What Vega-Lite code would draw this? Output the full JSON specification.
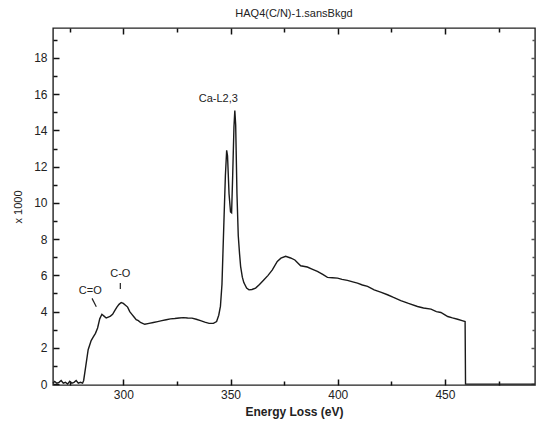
{
  "$schema": "https://vega.github.io/schema/vega-lite/v6.json",
  "padding": {"left": 12, "top": 8, "right": 3, "bottom": 5},
  "width": 482,
  "height": 357,
  "title": {"text": "HAQ4(C/N)-1.sansBkgd", "font": "Liberation Sans", "fontSize": 11, "fontWeight": "normal", "color": "#222", "offset": 8},
  "config": {
    "view": {"stroke": "#222", "strokeWidth": 1.4},
    "axis": {"labelFont": "Liberation Sans", "titleFont": "Liberation Sans", "labelColor": "#222", "titleColor": "#222", "domain": false, "gridOpacity": 0}
  },
  "datasets": {
    "ann": [
      {"e": 344.3, "v": 15.75, "label": "Ca-L2,3"},
      {"e": 284.6, "v": 5.15, "label": "C=O"},
      {"e": 298.6, "v": 6.07, "label": "C-O"}
    ],
    "marks": [
      {"e": 298.6, "v": 5.58, "e2": 298.6, "v2": 5.25},
      {"e": 285.4, "v": 4.73, "e2": 287.4, "v2": 4.27}
    ]
  },
  "data": {"values": [
      {"e": 267.2, "v": 0.05}, {"e": 268, "v": 0.15}, {"e": 269, "v": 0.05}, {"e": 270, "v": 0.1}, {"e": 271, "v": 0.2},
      {"e": 272, "v": 0.05}, {"e": 273, "v": 0.1}, {"e": 274, "v": 0.0}, {"e": 275, "v": 0.15}, {"e": 276, "v": 0.05},
      {"e": 277, "v": 0.1}, {"e": 278, "v": 0.2}, {"e": 279, "v": 0.05}, {"e": 280, "v": 0.1}, {"e": 281, "v": 0.05},
      {"e": 281.5, "v": 0.2}, {"e": 282.5, "v": 1.0}, {"e": 283.6, "v": 1.9}, {"e": 285, "v": 2.4}, {"e": 286, "v": 2.6},
      {"e": 287, "v": 2.8}, {"e": 288, "v": 3.1}, {"e": 289, "v": 3.6}, {"e": 290, "v": 3.85}, {"e": 291, "v": 3.75},
      {"e": 292, "v": 3.65}, {"e": 293, "v": 3.7}, {"e": 294, "v": 3.75}, {"e": 295, "v": 3.85}, {"e": 296, "v": 4.05},
      {"e": 297, "v": 4.25}, {"e": 298, "v": 4.4}, {"e": 299, "v": 4.5}, {"e": 300, "v": 4.45}, {"e": 301, "v": 4.35},
      {"e": 302, "v": 4.25}, {"e": 303, "v": 4.0}, {"e": 304, "v": 3.85}, {"e": 305, "v": 3.7}, {"e": 306, "v": 3.55},
      {"e": 307, "v": 3.5}, {"e": 308, "v": 3.4}, {"e": 309, "v": 3.35}, {"e": 310, "v": 3.3}, {"e": 312, "v": 3.35},
      {"e": 314, "v": 3.4}, {"e": 316, "v": 3.45}, {"e": 318, "v": 3.5}, {"e": 320, "v": 3.55}, {"e": 322, "v": 3.6},
      {"e": 324, "v": 3.62}, {"e": 326, "v": 3.65}, {"e": 328, "v": 3.67}, {"e": 330, "v": 3.65}, {"e": 332, "v": 3.64},
      {"e": 334, "v": 3.58}, {"e": 336, "v": 3.5}, {"e": 338, "v": 3.42}, {"e": 340, "v": 3.35}, {"e": 342, "v": 3.35},
      {"e": 343.5, "v": 3.45}, {"e": 344.5, "v": 3.8}, {"e": 345.3, "v": 4.3}, {"e": 346, "v": 5.5}, {"e": 346.9, "v": 8.9},
      {"e": 347.6, "v": 11.5}, {"e": 348.2, "v": 12.9}, {"e": 348.6, "v": 12.6}, {"e": 349.3, "v": 10.5}, {"e": 350.0, "v": 9.5},
      {"e": 350.5, "v": 9.45}, {"e": 351.0, "v": 11.5}, {"e": 351.6, "v": 14.2}, {"e": 352.0, "v": 15.1}, {"e": 352.4, "v": 14.3},
      {"e": 353.0, "v": 10.5}, {"e": 353.6, "v": 8.2}, {"e": 354.2, "v": 7.2}, {"e": 354.7, "v": 6.5}, {"e": 355.5, "v": 5.9},
      {"e": 356.2, "v": 5.6}, {"e": 357.5, "v": 5.3}, {"e": 358.6, "v": 5.2}, {"e": 360, "v": 5.22}, {"e": 361.7, "v": 5.3},
      {"e": 363.5, "v": 5.5}, {"e": 365.6, "v": 5.76}, {"e": 367.5, "v": 6.0}, {"e": 369.5, "v": 6.3}, {"e": 371.8, "v": 6.77},
      {"e": 373.5, "v": 6.95}, {"e": 375.7, "v": 7.05}, {"e": 378, "v": 6.96}, {"e": 380, "v": 6.85}, {"e": 382.7, "v": 6.53},
      {"e": 385.8, "v": 6.46}, {"e": 388, "v": 6.35}, {"e": 390.5, "v": 6.22}, {"e": 393, "v": 6.05}, {"e": 395.2, "v": 5.89},
      {"e": 397.5, "v": 5.87}, {"e": 399.9, "v": 5.85}, {"e": 402, "v": 5.78}, {"e": 404.5, "v": 5.72}, {"e": 407, "v": 5.64},
      {"e": 409.2, "v": 5.57}, {"e": 411.5, "v": 5.47}, {"e": 413.9, "v": 5.39}, {"e": 417, "v": 5.2}, {"e": 420, "v": 5.07},
      {"e": 423.2, "v": 4.93}, {"e": 426, "v": 4.78}, {"e": 429.4, "v": 4.61}, {"e": 433, "v": 4.45}, {"e": 437.2, "v": 4.28},
      {"e": 440, "v": 4.2}, {"e": 443.5, "v": 4.14}, {"e": 446, "v": 4.0}, {"e": 448.1, "v": 3.95}, {"e": 450, "v": 3.82},
      {"e": 451.3, "v": 3.73}, {"e": 453.5, "v": 3.65}, {"e": 455.9, "v": 3.58}, {"e": 458, "v": 3.5}, {"e": 459.4, "v": 3.45},
      {"e": 459.6, "v": 0.0}, {"e": 475, "v": 0.0}, {"e": 492, "v": 0.0}
  ]},
  "resolve": {"axis": {"x": "independent", "y": "independent"}},
  "layer": [
    {
      "mark": {"type": "line", "color": "#1a1a1a", "strokeWidth": 1.4, "interpolate": "linear"},
      "encoding": {
        "x": {"field": "e", "type": "quantitative", "scale": {"domain": [267.2, 492], "nice": false, "zero": false},
          "axis": {"orient": "bottom", "values": [300, 350, 400, 450], "tickSize": -6, "tickColor": "#111", "tickWidth": 1.5, "labelPadding": 10, "labelFontSize": 12, "title": "Energy Loss (eV)", "titleFontSize": 12, "titleFontWeight": "bold", "titlePadding": 6}},
        "y": {"field": "v", "type": "quantitative", "scale": {"domain": [-0.05, 19.65], "nice": false, "zero": false},
          "axis": {"orient": "left", "values": [0, 2, 4, 6, 8, 10, 12, 14, 16, 18], "tickSize": -6, "tickColor": "#111", "tickWidth": 1.5, "labelPadding": 12, "labelFontSize": 12, "title": "x 1000", "titleFontSize": 11, "titleFontWeight": "normal", "titlePadding": 10}}
      }
    },
    {
      "mark": {"type": "point", "opacity": 0},
      "encoding": {
        "x": {"field": "e", "type": "quantitative", "scale": {"domain": [267.2, 492], "nice": false, "zero": false},
          "axis": {"orient": "bottom", "values": [275, 325, 375, 425, 475], "tickSize": -4, "tickColor": "#111", "tickWidth": 1.5, "labels": false, "title": null}},
        "y": {"field": "v", "type": "quantitative", "scale": {"domain": [-0.05, 19.65], "nice": false, "zero": false},
          "axis": {"orient": "left", "values": [1, 3, 5, 7, 9, 11, 13, 15, 17, 19], "tickSize": -4, "tickColor": "#111", "tickWidth": 1.5, "labels": false, "title": null}}
      }
    },
    {
      "mark": {"type": "point", "opacity": 0},
      "encoding": {
        "x": {"field": "e", "type": "quantitative", "scale": {"domain": [267.2, 492], "nice": false, "zero": false},
          "axis": {"orient": "top", "values": [300, 350, 400, 450], "tickSize": -6, "tickColor": "#111", "tickWidth": 1.5, "labels": false, "title": null}},
        "y": {"field": "v", "type": "quantitative", "scale": {"domain": [-0.05, 19.65], "nice": false, "zero": false},
          "axis": {"orient": "right", "values": [0, 2, 4, 6, 8, 10, 12, 14, 16, 18], "tickSize": -4, "tickColor": "#555", "tickWidth": 1.5, "labels": false, "title": null}}
      }
    },
    {
      "mark": {"type": "point", "opacity": 0},
      "encoding": {
        "x": {"field": "e", "type": "quantitative", "scale": {"domain": [267.2, 492], "nice": false, "zero": false},
          "axis": {"orient": "top", "values": [275, 325, 375, 425, 475], "tickSize": -4, "tickColor": "#111", "tickWidth": 1.5, "labels": false, "title": null}},
        "y": {"field": "v", "type": "quantitative", "scale": {"domain": [-0.05, 19.65], "nice": false, "zero": false},
          "axis": {"orient": "right", "values": [1, 3, 5, 7, 9, 11, 13, 15, 17, 19], "tickSize": -3, "tickColor": "#555", "tickWidth": 1.5, "labels": false, "title": null}}
      }
    },
    {
      "data": {"name": "ann"},
      "mark": {"type": "text", "font": "Liberation Sans", "fontSize": 11, "color": "#222", "align": "center", "baseline": "middle"},
      "encoding": {
        "x": {"field": "e", "type": "quantitative", "axis": null},
        "y": {"field": "v", "type": "quantitative", "axis": null},
        "text": {"field": "label"}
      }
    },
    {
      "data": {"name": "marks"},
      "mark": {"type": "rule", "color": "#222", "strokeWidth": 1.2},
      "encoding": {
        "x": {"field": "e", "type": "quantitative", "axis": null},
        "y": {"field": "v", "type": "quantitative", "axis": null},
        "x2": {"field": "e2"},
        "y2": {"field": "v2"}
      }
    }
  ]
}
